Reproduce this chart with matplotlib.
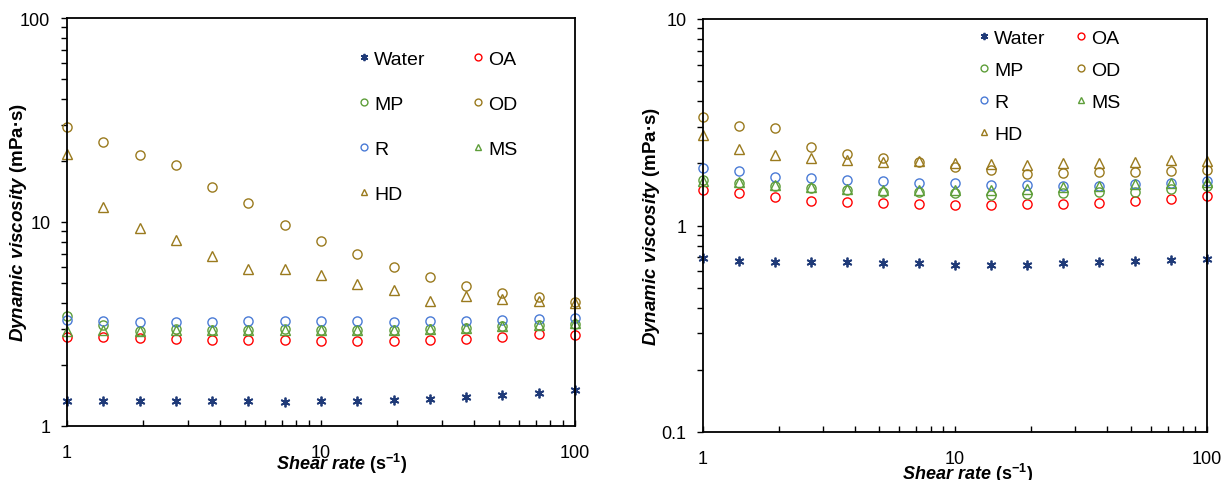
import matplotlib
matplotlib.use("Agg")
import matplotlib.pyplot as plt
from matplotlib.ticker import FixedLocator, FixedFormatter, LogLocator, NullFormatter

plt.rcParams['font.family'] = ['Liberation Sans', 'DejaVu Sans']
plt.rcParams['mathtext.fontset'] = 'custom'
plt.rcParams['mathtext.rm'] = 'Liberation Sans:bold'
plt.rcParams['mathtext.it'] = 'Liberation Sans:italic:bold'
plt.rcParams['mathtext.bf'] = 'Liberation Sans:bold'

shear_rate = [1, 1.39, 1.93, 2.68, 3.73, 5.18, 7.2, 10, 13.9, 19.3, 26.8, 37.3, 51.8, 72, 100]

# Left panel
water_l = [1.32, 1.33, 1.33, 1.32, 1.32, 1.32, 1.31, 1.32, 1.33, 1.34, 1.35, 1.38, 1.42, 1.45, 1.50]
oa_l = [2.74, 2.72, 2.69, 2.67, 2.65, 2.63, 2.63, 2.60, 2.60, 2.60, 2.64, 2.67, 2.72, 2.81, 2.78]
mp_l = [3.47, 3.13, 2.91, 2.99, 2.94, 2.94, 2.98, 2.95, 2.94, 2.95, 2.99, 3.02, 3.08, 3.12, 3.17]
od_l = [29.1, 24.6, 21.3, 19.0, 14.8, 12.4, 9.70, 8.04, 6.94, 6.04, 5.36, 4.87, 4.50, 4.27, 4.07]
r_l = [3.31, 3.28, 3.25, 3.25, 3.22, 3.27, 3.27, 3.27, 3.27, 3.25, 3.26, 3.28, 3.31, 3.34, 3.38]
ms_l = [2.93, 2.97, 2.91, 2.96, 2.94, 2.94, 2.97, 2.96, 2.94, 2.95, 2.99, 3.03, 3.10, 3.14, 3.19]
hd_l = [21.5, 11.8, 9.38, 8.13, 6.84, 5.90, 5.88, 5.48, 4.95, 4.63, 4.12, 4.32, 4.19, 4.12, 4.01]

# Right panel
water_r = [0.696, 0.673, 0.668, 0.668, 0.664, 0.658, 0.658, 0.646, 0.646, 0.641, 0.658, 0.664, 0.673, 0.681, 0.686]
oa_r = [1.49, 1.43, 1.37, 1.32, 1.30, 1.28, 1.27, 1.25, 1.25, 1.27, 1.27, 1.29, 1.31, 1.34, 1.39]
mp_r = [1.66, 1.61, 1.56, 1.52, 1.48, 1.46, 1.45, 1.44, 1.41, 1.42, 1.44, 1.46, 1.46, 1.51, 1.56]
od_r = [3.35, 3.04, 2.97, 2.40, 2.22, 2.12, 2.02, 1.91, 1.86, 1.78, 1.80, 1.81, 1.81, 1.84, 1.86]
r_r = [1.90, 1.84, 1.72, 1.69, 1.66, 1.64, 1.61, 1.61, 1.57, 1.57, 1.55, 1.56, 1.58, 1.61, 1.65]
ms_r = [1.65, 1.62, 1.57, 1.53, 1.50, 1.48, 1.49, 1.48, 1.49, 1.50, 1.53, 1.56, 1.59, 1.61, 1.63]
hd_r = [2.75, 2.34, 2.19, 2.12, 2.08, 2.04, 2.05, 2.01, 1.99, 1.97, 2.00, 2.01, 2.03, 2.08, 2.05]

labels = ["Water", "OA", "MP", "OD", "R", "MS", "HD"]
colors = {"Water": "#1F3A78", "OA": "#FF0000", "MP": "#5E9E3A", "OD": "#9A7A1E",
          "R": "#4A7BD6", "MS": "#5E9E3A", "HD": "#9A7A1E"}
markers = {"Water": (6, 2, 0), "OA": "o", "MP": "o", "OD": "o", "R": "o", "MS": "^", "HD": "^"}
legend_order = ["Water", "MP", "R", "HD", "OA", "OD", "MS"]

W, H = 1221, 481
fig = plt.figure(figsize=(W / 100, H / 100), dpi=100)

def px_axes(x0, y0, x1, y1):
    return fig.add_axes([x0 / W, 1 - y1 / H, (x1 - x0) / W, (y1 - y0) / H])

axL = px_axes(67, 19, 575, 427)
axR = px_axes(703, 20, 1207, 433)

def draw(ax, data, ylim, yticks, yticklabels, leg_anchor, labelspacing, colspacing, xlab_pos, ylab_x):
    handles = {}
    for name in labels:
        m = markers[name]
        if name == "Water":
            h, = ax.plot(shear_rate, data[name], linestyle='none', marker=m, markersize=7,
                         color=colors[name], markeredgewidth=1.3, clip_on=False, label=name)
        else:
            h, = ax.plot(shear_rate, data[name], linestyle='none', marker=m, markersize=6.6,
                         markerfacecolor='none', markeredgecolor=colors[name],
                         markeredgewidth=1.0, clip_on=False, label=name)
        handles[name] = h
    ax.set_xscale('log')
    ax.set_yscale('log')
    ax.set_xlim(1, 100)
    ax.set_ylim(*ylim)
    ax.xaxis.set_major_locator(FixedLocator([1, 10, 100]))
    ax.xaxis.set_major_formatter(FixedFormatter(["1", "10", "100"]))
    ax.xaxis.set_minor_locator(LogLocator(base=10, subs=range(2, 10), numticks=20))
    ax.xaxis.set_minor_formatter(NullFormatter())
    ax.yaxis.set_major_locator(FixedLocator(yticks))
    ax.yaxis.set_major_formatter(FixedFormatter(yticklabels))
    ax.yaxis.set_minor_locator(LogLocator(base=10, subs=range(2, 10), numticks=20))
    ax.yaxis.set_minor_formatter(NullFormatter())
    ax.tick_params(axis='x', which='both', direction='in', length=4, width=1.0,
                   labelsize=13, pad=13, top=False)
    ax.tick_params(axis='y', which='both', direction='out', length=4, width=1.0,
                   labelsize=13, pad=8, right=False)
    for s in ax.spines.values():
        s.set_linewidth(1.3)
        s.set_color('black')
    ax.set_xlabel(r'$\it{Shear\ rate}$ (s$^{-1}$)', fontsize=13, fontweight='bold')
    ax.xaxis.set_label_coords(*xlab_pos)
    ax.set_ylabel(r'$\it{Dynamic\ viscosity}$ (mPa·s)', fontsize=13.5, fontweight='bold')
    ax.yaxis.set_label_coords(ylab_x, 0.5)
    leg = ax.legend([handles[n] for n in legend_order], legend_order, ncol=2,
                    loc='upper left', bbox_to_anchor=leg_anchor, frameon=False,
                    fontsize=14, markerscale=0.75, handlelength=0.6, handletextpad=0.23,
                    columnspacing=colspacing, labelspacing=labelspacing, borderpad=0,
                    borderaxespad=0)
    return leg

dataL = {"Water": water_l, "OA": oa_l, "MP": mp_l, "OD": od_l, "R": r_l, "MS": ms_l, "HD": hd_l}
dataR = {"Water": water_r, "OA": oa_r, "MP": mp_r, "OD": od_r, "R": r_r, "MS": ms_r, "HD": hd_r}

draw(axL, dataL, (1, 100), [1, 10, 100], ["1", "10", "100"],
     ((358 - 67) / 508, 1 - (51 - 19) / 408), 1.42, 2.4, (0.54, -0.061), -0.075)
draw(axR, dataR, (0.1, 10), [0.1, 1, 10], ["0.1", "1", "10"],
     ((978 - 703) / 504, 1 - (30 - 20) / 413), 0.75, 1.5, (0.525, -0.07), -0.081)

fig.savefig("out.png", dpi=100)
